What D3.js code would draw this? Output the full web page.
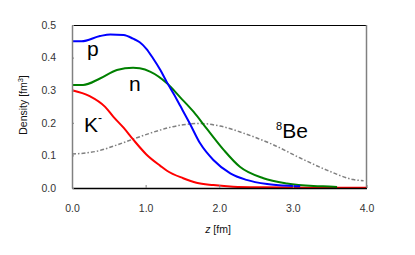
<!DOCTYPE html>
<html>
<head>
<meta charset="utf-8">
<script src="https://cdn.jsdelivr.net/npm/d3@7"></script>
<style>
  body { margin: 0; background: #fff; }
  text { font-family: "Liberation Sans", Arial, sans-serif; }
</style>
</head>
<body>
<div id="chart-area"></div>
<script>
// densities
var p_z   = [0, 0.13, 0.38, 0.52, 0.70, 0.83, 0.92, 1.01, 1.10, 1.20, 1.29, 1.38, 1.47, 1.60, 1.74, 1.92, 2.15, 2.37, 2.65, 3.0, 3.1];
var p_d   = [0.45, 0.45, 0.466, 0.471, 0.469, 0.458, 0.447, 0.427, 0.398, 0.362, 0.324, 0.289, 0.252, 0.198, 0.137, 0.086, 0.045, 0.025, 0.012, 0.006, 0.005];
var n_z   = [0, 0.15, 0.38, 0.61, 0.83, 0.92, 1.06, 1.29, 1.47, 1.65, 1.83, 2.06, 2.28, 2.60, 2.92, 3.28, 3.55, 3.6];
var n_d   = [0.316, 0.316, 0.336, 0.362, 0.369, 0.367, 0.357, 0.321, 0.278, 0.234, 0.182, 0.117, 0.065, 0.030, 0.014, 0.006, 0.004, 0.003];
var k_z   = [0, 0.24, 0.45, 0.56, 0.70, 0.83, 1.01, 1.20, 1.29, 1.51, 1.69, 1.92, 2.19, 2.6, 3.2, 4.0];
var k_d   = [0.30, 0.282, 0.249, 0.219, 0.185, 0.149, 0.103, 0.068, 0.053, 0.03, 0.016, 0.009, 0.004, 0.002, 0.001, 0.001];
var be_z  = [0, 0.34, 0.61, 0.83, 1.06, 1.33, 1.51, 1.74, 2.01, 2.37, 2.74, 3.10, 3.46, 3.82, 3.96];
var be_d  = [0.104, 0.113, 0.132, 0.15, 0.168, 0.186, 0.194, 0.198, 0.19, 0.165, 0.132, 0.092, 0.055, 0.026, 0.022];

var x_ticks = [0, 1, 2, 3, 4];
var y_ticks = [0, 0.1, 0.2, 0.3, 0.4, 0.5];

var svg_width = 415;
var svg_height = 255;
var m_left = 72, m_right = 366.5, m_top = 25, m_bottom = 188;

var x = d3.scaleLinear().domain([0, 4]).range([m_left, m_right]);
var y = d3.scaleLinear().domain([0, 0.5]).range([m_bottom, m_top]);

var svg = d3.select("#chart-area").append("svg")
    .attr("width", svg_width)
    .attr("height", svg_height);

// frame: top black, right gray
svg.append("line").attr("x1", m_left).attr("x2", m_right).attr("y1", m_top + 0.5).attr("y2", m_top + 0.5)
    .attr("stroke", "#000").attr("stroke-width", 1);
svg.append("line").attr("x1", m_right).attr("x2", m_right).attr("y1", m_top).attr("y2", m_bottom)
    .attr("stroke", "#808080").attr("stroke-width", 1.5);

var line = d3.line()
    .x((d)=>{ return x(d[0]); })
    .y((d)=>{ return y(d[1]); })
    .curve(d3.curveMonotoneX);

var series = [
    { z: be_z, d: be_d, color: "#808080", width: 1.5, dash: "4,2,1.5,2" },
    { z: k_z, d: k_d, color: "#ff0000", width: 2, dash: null },
    { z: n_z, d: n_d, color: "#008000", width: 2, dash: null },
    { z: p_z, d: p_d, color: "#0000ff", width: 2, dash: null }
];

series.forEach((s)=>{
    svg.append("path")
        .datum(s.z.map((z, i)=>{ return [z, s.d[i]]; }))
        .attr("d", line)
        .attr("fill", "none")
        .attr("stroke", s.color)
        .attr("stroke-width", s.width)
        .attr("stroke-dasharray", s.dash);
});

// axes
var xAxis = svg.append("g")
    .attr("transform", "translate(0," + m_bottom + ")")
    .call(d3.axisBottom(x).tickValues(x_ticks).tickSizeInner(-3).tickSizeOuter(0)
        .tickFormat(d3.format(".1f")));
xAxis.select(".domain").attr("stroke", "#000").attr("stroke-width", 1.5);
xAxis.selectAll(".tick line").attr("stroke", "#808080");
xAxis.selectAll(".tick text")
    .attr("y", 17)
    .attr("fill", "#333")
    .style("font-size", "10.5px");

var yAxis = svg.append("g")
    .attr("transform", "translate(" + m_left + ",0)")
    .call(d3.axisLeft(y).tickValues(y_ticks).tickSizeInner(-2).tickSizeOuter(0)
        .tickFormat(d3.format(".1f")));
yAxis.select(".domain").attr("stroke", "#808080").attr("stroke-width", 1.5);
yAxis.selectAll(".tick line").attr("stroke", "#808080");
yAxis.selectAll(".tick text")
    .attr("x", -16)
    .attr("fill", "#333")
    .style("font-size", "10.5px");

// axis titles
var zt = svg.append("text")
    .attr("x", 218).attr("y", 233)
    .attr("text-anchor", "middle")
    .style("font-size", "10.5px")
    .attr("fill", "#111");
zt.append("tspan").attr("font-style", "italic").text("z");
zt.append("tspan").text(" [fm]");

var yt = svg.append("text")
    .attr("transform", "translate(27,105) rotate(-90)")
    .attr("text-anchor", "middle")
    .style("font-size", "10.5px")
    .attr("fill", "#111");
yt.append("tspan").text("Density [fm");
yt.append("tspan").attr("dy", -4).style("font-size", "7.5px").text("3");
yt.append("tspan").attr("dy", 4).text("]");

// curve labels
svg.append("text").attr("x", 87).attr("y", 56).style("font-size", "21px").text("p");
svg.append("text").attr("x", 129).attr("y", 91).style("font-size", "21px").text("n");
var kl = svg.append("text").attr("x", 84).attr("y", 132).style("font-size", "21px");
kl.append("tspan").text("K");
kl.append("tspan").attr("dy", -10).style("font-size", "12px").text("-");
var bl = svg.append("text").attr("x", 276).attr("y", 138).style("font-size", "21px");
bl.append("tspan").attr("dy", -8).style("font-size", "11px").text("8");
bl.append("tspan").attr("dy", 8).text("Be");
</script>
</body>
</html>
